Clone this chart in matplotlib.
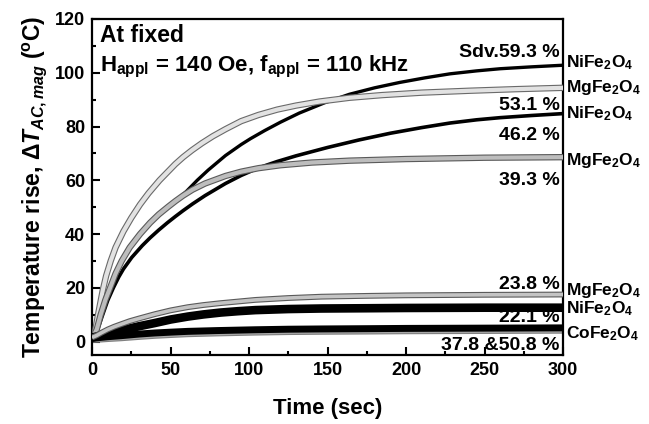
import matplotlib
matplotlib.use("Agg")
import matplotlib.pyplot as plt
import matplotlib.patheffects as pe

plt.rcParams['font.family'] = ['Liberation Sans', 'DejaVu Sans']
plt.rcParams['font.weight'] = 'bold'
plt.rcParams['mathtext.fontset'] = 'custom'
plt.rcParams['mathtext.rm'] = 'Liberation Sans:bold'
plt.rcParams['mathtext.it'] = 'Liberation Sans:bold:italic'
plt.rcParams['mathtext.bf'] = 'Liberation Sans:bold'

# ---- data ----
t_mg53 = [0, 2, 4, 6.8, 9, 11.9, 15, 20, 25, 30.6, 36, 43, 48, 53, 58, 63.7, 70, 77, 85, 95,
          106, 118, 130, 145, 164, 185, 210, 240, 270, 300]
v_mg53 = [1, 4, 10.5, 19, 24.5, 30, 35, 41, 46, 51, 55.2, 60, 63, 66, 68.6, 71.2, 73.8, 76.4, 79,
          82, 84.3, 86.3, 87.8, 89.3, 90.7, 91.7, 92.6, 93.3, 93.9, 94.4]

t_mg39 = [0, 3, 5.5, 8.5, 11.5, 15, 18.9, 24, 30.6, 37, 42.5, 48.6, 53, 58, 64, 72, 85, 95, 106,
          120, 140, 164, 200, 250, 300]
v_mg39 = [1, 4.5, 10, 15.5, 20, 25.3, 30, 35, 40, 44.2, 47.3, 50.2, 52.2, 54.3, 56.5, 58.8, 61.6,
          63.2, 64.5, 65.6, 66.6, 67.3, 67.9, 68.4, 68.6]

t_ni59 = [0, 3, 5.5, 8.5, 11.5, 15, 18.9, 24, 30.6, 37, 42.5, 48.6, 53, 60, 67, 74, 85, 95, 101,
          110, 120, 132, 148, 164, 180, 196, 212, 228, 245, 260, 280, 300]
v_ni59 = [1, 4.5, 10, 15.5, 20, 25.3, 30, 35, 40, 44.2, 47.3, 50.2, 52.2, 55.8, 60.0, 63.8, 69.2,
          73.3, 75.5, 78.5, 81.6, 85, 88.8, 92, 94.4, 96.4, 98.1, 99.6, 100.7, 101.5, 102.2, 102.8]

t_ni46 = [0, 3, 6.8, 10, 13.6, 17, 20, 25.3, 32, 37, 42.5, 48, 53, 58, 64, 72, 85, 95, 106, 118,
          130, 150, 170, 190, 210, 228, 245, 260, 280, 300]
v_ni46 = [1, 3.5, 10, 15.3, 20, 24, 27, 31.3, 35.7, 38.6, 41.5, 44.2, 46.5, 48.7, 51.2, 54.3,
          58.8, 61.8, 64.6, 67, 69.1, 72.2, 75, 77.5, 79.6, 81.3, 82.5, 83.3, 84.1, 84.8]

t_low = [0, 3, 6, 10, 14, 18.7, 24, 30, 40, 50, 61, 71, 82, 93, 104, 125, 146, 175, 200, 250, 300]
v_mg24 = [1.5, 2.3, 3.3, 4.5, 5.5, 6.5, 7.6, 8.6, 10.2, 11.6, 12.8, 13.6, 14.3, 14.9, 15.5, 16.2,
          16.7, 17.0, 17.2, 17.4, 17.5]
v_ni22 = [1.5, 1.9, 2.4, 3.0, 3.5, 4.1, 4.9, 5.7, 6.9, 8.2, 9.3, 10.1, 10.8, 11.3, 11.7, 12.1,
          12.3, 12.4, 12.5, 12.6, 12.6]

t_co = [0, 5, 10, 18.7, 30, 40, 50, 61, 80, 104, 125, 146, 175, 200, 250, 300]
v_co38 = [1.2, 1.5, 1.8, 2.2, 2.8, 3.2, 3.5, 3.8, 4.1, 4.4, 4.6, 4.7, 4.8, 4.9, 5.0, 5.1]
v_co51 = [0.3, 0.4, 0.6, 0.9, 1.4, 1.8, 2.1, 2.4, 2.7, 3.0, 3.2, 3.3, 3.4, 3.5, 3.6, 3.7]

right_labels = [(102.2, 'NiFe$_2$O$_4$'), (92.9, 'MgFe$_2$O$_4$'), (82.9, 'NiFe$_2$O$_4$'),
                (65.8, 'MgFe$_2$O$_4$'), (17.5, 'MgFe$_2$O$_4$'), (10.4, 'NiFe$_2$O$_4$'),
                (1.1, 'CoFe$_2$O$_4$')]
pct_labels = [(106, 'Sdv.59.3 %'), (86.2, '53.1 %'), (75.1, '46.2 %'), (58.4, '39.3 %'),
              (19.7, '23.8 %'), (7.1, '22.1 %'), (-3, '37.8 &50.8 %')]

fig = plt.figure(figsize=(6.49, 4.24), dpi=100)
ax = fig.add_axes([0.1418, 0.1627, 0.7257, 0.7925])


def band(t, v, face, edge, w, z):
    ax.plot(t, v, color=face, lw=w, zorder=z, solid_capstyle='butt', solid_joinstyle='round',
            path_effects=[pe.Stroke(linewidth=w + 1.6, foreground=edge), pe.Normal()])


ax.plot(t_ni59, v_ni59, color='black', lw=2.4, zorder=2, solid_joinstyle='round')
ax.plot(t_ni46, v_ni46, color='black', lw=2.6, zorder=2, solid_joinstyle='round')
band(t_mg53, v_mg53, '#e2e2e2', '#6a6a6a', 3.0, 3)
band(t_mg39, v_mg39, '#bdbdbd', '#5a5a5a', 3.0, 3)
band(t_co, v_co51, '#a8a8a8', '#808080', 1.4, 2)
ax.plot(t_co, v_co38, color='black', lw=5.0, zorder=3, solid_capstyle='butt')
ax.plot(t_low, v_ni22, color='black', lw=6.2, zorder=3, solid_capstyle='butt')
band(t_low, v_mg24, '#c4c4c4', '#5a5a5a', 2.6, 4)

ax.set_xlim(0, 300)
ax.set_ylim(-5, 120)
ax.set_xticks([0, 50, 100, 150, 200, 250, 300])
ax.set_xticks([25, 75, 125, 175, 225, 275], minor=True)
ax.set_yticks([0, 20, 40, 60, 80, 100, 120])
ax.set_yticks([10, 30, 50, 70, 90, 110], minor=True)
ax.tick_params(which='both', direction='in', top=False, right=False, width=1.5)
ax.tick_params(which='major', length=6, labelsize=13, pad=5)
ax.tick_params(which='minor', length=3)
for lab in ax.get_xticklabels() + ax.get_yticklabels():
    lab.set_fontweight('bold')
for s in ax.spines.values():
    s.set_linewidth(1.6)

ax.set_xlabel('Time (sec)', fontsize=16, fontweight='bold', labelpad=14)
ax.set_ylabel(r'Temperature rise, $\Delta T_{AC,mag}$ ($^{\mathrm{o}}$C)', fontsize=16.5,
              fontweight='bold', labelpad=4)

ax.text(5.0, 111.5, 'At fixed', fontsize=16.5, fontweight='bold', va='baseline', ha='left')
ax.text(5.0, 100.4, r'H$_{\mathrm{appl}}$ = 140 Oe, f$_{\mathrm{appl}}$ = 110 kHz',
        fontsize=16, fontweight='bold', va='baseline', ha='left')

for y, s in pct_labels:
    ax.text(298, y, s, fontsize=14, fontweight='bold', ha='right', va='baseline', zorder=6)
for y, s in right_labels:
    ax.text(302, y, s, fontsize=12.5, fontweight='bold', ha='left', va='baseline', clip_on=False)

fig.savefig('out.png', dpi=100)
